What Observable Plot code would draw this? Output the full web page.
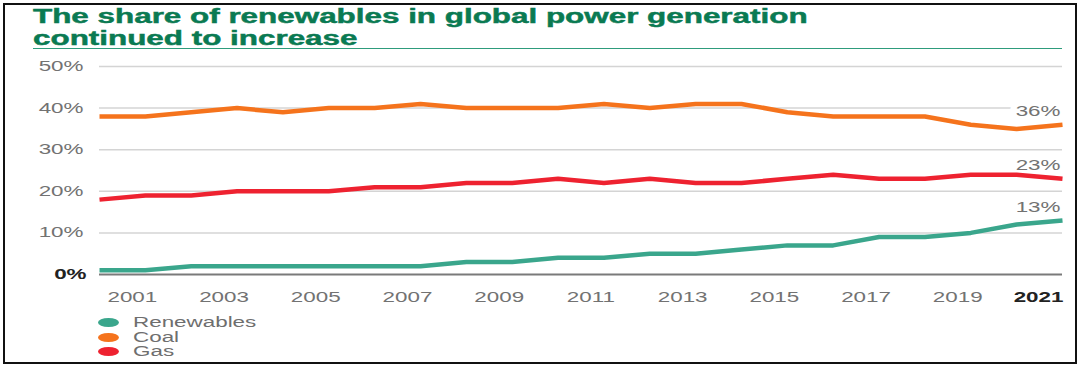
<!DOCTYPE html>
<html>
<head>
<meta charset="utf-8">
<script src="https://cdn.jsdelivr.net/npm/d3@7"></script>
<script src="https://cdn.jsdelivr.net/npm/@observablehq/plot@0.6"></script>
<style>
  html, body { margin: 0; padding: 0; background: #fff; }
  body { width: 1080px; height: 367px; position: relative; overflow: hidden; font-family: "Liberation Sans", Arial, sans-serif; }
  #frame { position: absolute; left: 3px; top: 3px; width: 1074px; height: 361px; box-sizing: border-box; border: 2px solid #111; }
  #title { position: absolute; left: 33px; top: 6px; font-weight: bold; font-size: 19.5px; line-height: 21.5px; color: #0a7a52; -webkit-text-stroke: 0.45px #0a7a52; transform: scaleX(1.61); transform-origin: left top; white-space: nowrap; }
  #rule { position: absolute; left: 33px; top: 47.5px; width: 1029px; height: 1.5px; background: #2e9c7c; }
  #chart { position: absolute; left: 0; top: 52px; }
  .lg-row { position: absolute; left: 98px; height: 14.5px; display: flex; align-items: center; }
  .lg-sw { width: 21px; height: 9px; border-radius: 50%; }
  .lg-tx { position: absolute; left: 35px; font-size: 14px; color: #6e6e6e; transform: scaleX(1.6); transform-origin: left center; white-space: nowrap; line-height: 14.5px; }
</style>
</head>
<body>
<div id="frame"></div>
<div id="title">The share of renewables in global power generation<br>continued to increase</div>
<div id="rule"></div>
<div id="chart"></div>
<div id="legend"></div>
<script>
// ---- data ----
const years = [2000,2001,2002,2003,2004,2005,2006,2007,2008,2009,2010,2011,2012,2013,2014,2015,2016,2017,2018,2019,2020,2021];
const renewables = [1,1,2,2,2,2,2,2,3,3,4,4,5,5,6,7,7,9,9,10,12,13];
const coal       = [38,38,39,40,39,40,40,41,40,40,40,41,40,41,41,39,38,38,38,36,35,36];
const gas        = [18,19,19,20,20,20,21,21,22,22,23,22,23,22,22,23,24,23,23,24,24,23];
const seriesNames = ["Renewables", "Coal", "Gas"];
const seriesColors = ["#3aa68c", "#f5731c", "#ee2230"];
const yTicks = [0, 10, 20, 30, 40, 50];
const yTickLabels = ["0%", "10%", "20%", "30%", "40%", "50%"];
const xTicks = [2001, 2003, 2005, 2007, 2009, 2011, 2013, 2015, 2017, 2019, 2021];
const xTickLabels = ["2001","2003","2005","2007","2009","2011","2013","2015","2017","2019","2021"];

// ---- tidy table ----
const seriesValues = [renewables, coal, gas];
const table = [];
seriesNames.forEach((name, i) => {
  years.forEach((yr, j) => table.push({ series: name, year: yr, value: seriesValues[i][j] }));
});
const lastPoints = seriesNames.map((name, i) => ({ series: name, year: years[years.length - 1], value: seriesValues[i][years.length - 1] }));

const yTickData = yTicks.map((v, i) => ({ v, label: yTickLabels[i], bold: v === 0 }));
const xTickData = xTicks.map((v, i) => ({ v, label: xTickLabels[i], bold: i === xTicks.length - 1 }));

const font = "Liberation Sans, Arial, sans-serif";
const grey = "#727272";

const chart = Plot.plot({
  width: 1080,
  height: 260,
  marginLeft: 99,
  marginRight: 18,
  marginTop: 14,
  marginBottom: 38,
  style: { fontFamily: font, background: "transparent", overflow: "visible" },
  x: { domain: [2000, 2021], axis: null },
  y: { domain: [0, 50], axis: null },
  color: { domain: seriesNames, range: seriesColors },
  marks: [
    Plot.ruleY(yTicks.filter(v => v > 0), { stroke: "#d4d4d4", strokeWidth: 1.5 }),
    Plot.ruleY([0], { stroke: "#7a7a7a", strokeWidth: 2 }),
    // y tick labels
    Plot.text(yTickData.filter(d => !d.bold), { x: () => 2000, y: "v", text: "label", textAnchor: "end", dx: -16, fill: grey, fontSize: 14 }),
    Plot.text(yTickData.filter(d => d.bold), { x: () => 2000, y: "v", text: "label", textAnchor: "end", dx: -13, fill: "#222", fontSize: 14, fontWeight: "bold" }),
    // x tick labels
    Plot.text(xTickData.filter(d => !d.bold), { x: "v", y: () => 0, text: "label", dx: -13, dy: 23, fill: grey, fontSize: 14 }),
    Plot.text(xTickData.filter(d => d.bold), { x: "v", y: () => 0, text: "label", textAnchor: "end", dx: 1, dy: 23, fill: "#222", fontSize: 14, fontWeight: "bold" }),
    // end labels
    Plot.text(lastPoints, { x: "year", y: "value", text: d => d.value + "%", textAnchor: "end", dx: -2, dy: -13, fill: grey, fontSize: 14, stroke: "white", strokeWidth: 8 }),
    // lines
    Plot.line(table, { x: "year", y: "value", z: "series", stroke: "series", strokeWidth: 4.5, strokeLinejoin: "round", strokeLinecap: "butt" })
  ]
});
document.getElementById("chart").appendChild(chart);

// horizontal stretch of the glyphs, as in the reference
const S = 1.6;
chart.querySelectorAll("text").forEach(t => {
  const L = t.getComputedTextLength();
  if (L > 0) {
    t.setAttribute("textLength", (L * S).toFixed(2));
    t.setAttribute("lengthAdjust", "spacingAndGlyphs");
  }
});

// legend
const legend = document.getElementById("legend");
const rowCenters = [322.7, 337, 351.5];
seriesNames.forEach((name, i) => {
  const row = document.createElement("div");
  row.className = "lg-row";
  row.style.top = (rowCenters[i] - 7.25) + "px";
  const sw = document.createElement("div");
  sw.className = "lg-sw";
  sw.style.background = seriesColors[i];
  const tx = document.createElement("div");
  tx.className = "lg-tx";
  tx.textContent = name;
  row.appendChild(sw);
  row.appendChild(tx);
  legend.appendChild(row);
});
</script>
</body>
</html>
